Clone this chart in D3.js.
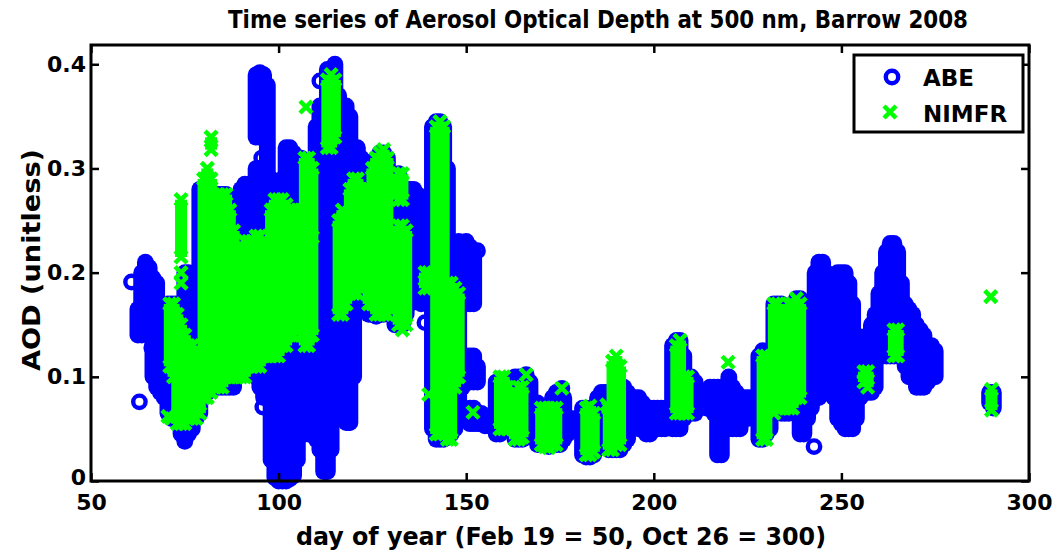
<!DOCTYPE html>
<html><head><meta charset="utf-8">
<script src="https://cdn.jsdelivr.net/npm/d3@7"></script>
<style>body{margin:0;background:#fff} svg{display:block}</style>
</head><body><svg id="c" width="1058" height="552"></svg>
<script>
// ---------- data (day of year, AOD) ----------
const xTicks = [50,100,150,200,250,300];
const yTicks = [0,0.1,0.2,0.3,0.4];
const seriesNames = ["ABE","NIMFR"];

// ABE: per-day ranges of observed AOD [day, low, high]
const abeRanges = [
[62.5,0.14,0.165],[63.5,0.14,0.2],[64.5,0.15,0.21],[65.5,0.14,0.205],[66.5,0.1,0.195],[67.5,0.09,0.19],[68.5,0.085,0.12],[69.5,0.08,0.11],
[70.5,0.065,0.17],[71.5,0.06,0.17],[72.5,0.06,0.17],[74,0.045,0.17],[75,0.038,0.2],[76,0.045,0.2],[77,0.05,0.18],[78,0.06,0.15],[79,0.065,0.28],
[80,0.08,0.28],[81,0.085,0.28],[82,0.09,0.25],[83,0.09,0.25],[84,0.09,0.275],[85,0.09,0.275],[86,0.09,0.275],[87,0.09,0.25],[88,0.09,0.2],[89,0.1,0.2],
[90,0.11,0.28],[91,0.11,0.285],[92,0.11,0.285],[93,0.11,0.28],
[94,0.33,0.39],[95,0.33,0.392],[96,0.33,0.39],[97,0.08,0.38],
[94,0.1,0.3],[95,0.09,0.3],[96,0.08,0.3],
[98,0.02,0.29],[99,0.003,0.285],[100,0.0,0.28],[101,0.0,0.29],[102,0.0,0.32],[103,0.002,0.32],[104,0.005,0.315],[105,0.02,0.31],
[106,0.045,0.31],[107,0.045,0.3],[108,0.045,0.26],[109,0.045,0.25],[110,0.04,0.34],[111,0.03,0.36],[112,0.009,0.36],[113,0.009,0.395],
[114,0.03,0.395],[115,0.08,0.4],[116,0.08,0.37],[117,0.07,0.36],[118,0.056,0.36],[119,0.056,0.35],[120,0.1,0.32],
[121,0.17,0.32],[122,0.17,0.31],[123,0.165,0.3],
[124,0.16,0.29],[125,0.16,0.3],[126,0.158,0.31],[127,0.16,0.315],[128,0.16,0.315],[129,0.165,0.31],[130,0.17,0.28],
[131,0.15,0.29],[132,0.15,0.295],[133,0.15,0.28],[134,0.16,0.28],[135,0.17,0.28],[136,0.18,0.28],[137,0.19,0.275],[138,0.17,0.26],[139,0.18,0.26],[140,0.19,0.25],
[141,0.05,0.34],[142,0.04,0.345],[143,0.04,0.345],[144,0.04,0.34],[145,0.05,0.3],[146,0.045,0.2],[147,0.05,0.2],[148,0.06,0.23],
[149,0.17,0.225],[150,0.17,0.23],[151,0.17,0.225],[152,0.17,0.22],
[149,0.09,0.12],[150,0.095,0.12],[151,0.095,0.12],[152,0.095,0.12],[153,0.095,0.11],
[151,0.055,0.07],[152,0.055,0.07],[153,0.055,0.065],[154,0.055,0.065],[155,0.053,0.06],[156,0.053,0.06],
[158,0.045,0.095],[159,0.045,0.095],[160,0.05,0.095],[161,0.05,0.09],
[163,0.04,0.1],[164,0.04,0.1],[165,0.04,0.1],[166,0.042,0.095],[167,0.045,0.095],
[169,0.035,0.075],[170,0.035,0.07],[171,0.035,0.07],[172,0.033,0.07],[173,0.035,0.08],[174,0.035,0.085],[175,0.035,0.085],[176,0.04,0.08],[177,0.045,0.06],[178,0.05,0.06],
[181,0.025,0.07],[182,0.023,0.07],[183,0.023,0.07],[184,0.025,0.07],
[185,0.04,0.08],[186,0.05,0.085],[187,0.05,0.085],[188,0.03,0.085],[189,0.03,0.085],[190,0.03,0.09],[191,0.03,0.09],[192,0.035,0.09],[193,0.04,0.085],
[195,0.055,0.08],[196,0.05,0.08],[197,0.05,0.075],[198,0.045,0.07],[199,0.045,0.07],[200,0.05,0.07],[201,0.05,0.07],[202,0.05,0.07],[203,0.05,0.07],
[205,0.05,0.13],[206,0.05,0.135],[207,0.05,0.135],[208,0.06,0.12],[209,0.065,0.1],[210,0.065,0.1],[211,0.065,0.095],
[214,0.07,0.085],[215,0.07,0.09],[216,0.065,0.09],[217,0.025,0.09],[218,0.025,0.09],[219,0.05,0.09],[220,0.05,0.1],[221,0.05,0.09],[222,0.05,0.085],[223,0.05,0.08],[224,0.06,0.08],[225,0.06,0.08],[226,0.065,0.08],
[228,0.04,0.12],[229,0.04,0.125],[230,0.045,0.12],[231,0.05,0.1],
[232,0.07,0.17],[233,0.07,0.17],[234,0.065,0.17],[235,0.065,0.15],[236,0.065,0.16],[237,0.07,0.17],[238,0.07,0.175],[239,0.045,0.175],[240,0.045,0.17],[241,0.06,0.15],
[242,0.07,0.15],[243,0.08,0.2],[244,0.08,0.21],[245,0.09,0.21],[246,0.1,0.2],
[247,0.1,0.18],[248,0.08,0.19],[249,0.06,0.2],[250,0.055,0.2],[251,0.05,0.2],[252,0.05,0.19],[253,0.05,0.17],[254,0.06,0.14],[255,0.08,0.13],
[256,0.09,0.13],[257,0.085,0.14],[258,0.085,0.15],[259,0.09,0.16],
[260,0.12,0.18],[261,0.12,0.2],[262,0.12,0.22],[263,0.12,0.228],[264,0.12,0.228],[265,0.12,0.22],[266,0.12,0.19],
[267,0.11,0.17],[268,0.1,0.165],[269,0.1,0.16],[270,0.09,0.15],[271,0.09,0.145],[272,0.09,0.14],[273,0.095,0.13],[274,0.1,0.13],[275,0.1,0.125],
[289.5,0.075,0.085],[290.5,0.07,0.085]
];
// ABE: isolated observations [day, AOD]
const abePoints = [
[60.8,0.191],[62.9,0.076],[66.2,0.128],[95.5,0.31],[95.8,0.071],[111,0.384],[112.6,0.009],[118.7,0.056],
[139,0.152],[153,0.221],[166,0.102],[175.5,0.089],[242.7,0.033]
];

// NIMFR: per-day ranges [day, low, high]
const nimfrRanges = [
[71,0.11,0.17],[72,0.1,0.17],[73,0.055,0.16],[74,0.055,0.15],[75,0.055,0.14],[74,0.215,0.27],
[76,0.06,0.13],[77,0.06,0.13],[78,0.06,0.12],[79,0.065,0.12],
[80,0.08,0.29],[81,0.08,0.3],[82,0.085,0.29],[82,0.318,0.33],
[83,0.09,0.26],[84,0.09,0.275],[85,0.09,0.275],[86,0.1,0.275],[87,0.1,0.26],[88,0.1,0.24],
[89,0.1,0.22],[90,0.1,0.22],[91,0.1,0.23],[92,0.11,0.23],[93,0.11,0.23],[94,0.11,0.235],[95,0.11,0.235],[96,0.12,0.23],[97,0.12,0.2],
[98,0.12,0.26],[99,0.12,0.27],[100,0.12,0.27],[101,0.13,0.27],[102,0.13,0.265],[103,0.14,0.26],[104,0.14,0.26],
[105,0.2,0.26],[106,0.14,0.26],[107,0.13,0.31],[108,0.13,0.31],[109,0.14,0.3],
[113,0.32,0.385],[114,0.32,0.39],[115,0.33,0.385],
[116,0.16,0.25],[117,0.16,0.26],[118,0.17,0.25],
[119,0.18,0.28],[120,0.18,0.29],[121,0.18,0.29],[122,0.19,0.28],
[124,0.17,0.28],[125,0.17,0.3],[126,0.16,0.31],[127,0.16,0.315],[128,0.16,0.318],[129,0.16,0.31],
[132,0.27,0.295],[133,0.27,0.295],[132,0.15,0.245],[133,0.145,0.245],[134,0.15,0.24],
[139,0.185,0.2],[140,0.185,0.2],
[142,0.045,0.34],[143,0.045,0.345],[144,0.1,0.34],
[145,0.04,0.19],[146,0.04,0.19],[147,0.09,0.185],[148,0.1,0.18],
[159,0.05,0.1],[160,0.05,0.1],[161,0.05,0.09],
[163,0.04,0.085],[164,0.04,0.09],[165,0.042,0.09],
[170,0.035,0.07],[171,0.033,0.07],[172,0.032,0.07],[173,0.035,0.07],[174,0.035,0.07],
[182,0.025,0.07],[183,0.025,0.072],[184,0.028,0.065],
[188,0.03,0.07],[189,0.03,0.115],[190,0.035,0.12],[191,0.035,0.11],
[206,0.065,0.13],[207,0.065,0.135],[208,0.065,0.1],[209,0.065,0.1],
[229,0.04,0.12],[230,0.04,0.12],
[232,0.065,0.17],[233,0.07,0.17],[234,0.07,0.12],[235,0.07,0.13],[236,0.07,0.17],[237,0.07,0.17],[238,0.08,0.175],[239,0.08,0.17],
[256,0.095,0.105],[257,0.09,0.105],
[264,0.12,0.145],[265,0.12,0.145],
[290,0.068,0.088]
];
// NIMFR: isolated observations [day, AOD]
const nimfrPoints = [
[70.5,0.062],[71.5,0.06],[74,0.2],[74,0.19],[107.3,0.359],[109,0.234],[140,0.083],[151.8,0.066],
[166,0.102],[175.5,0.089],[187.5,0.073],[219.8,0.114],[289.8,0.177]
];

// ---------- drawing ----------
const BLUE = "#0000ff", GREEN = "#00ff00";
const svg = d3.select("#c");
const x = d3.scaleLinear().domain([50,300]).range([91,1029]);
const y = d3.scaleLinear().domain([0,0.4185]).range([481,45]);
const R = 6.2, SW = 4.4, XS = 6;

const gData = svg.append("g");
gData.append("g").selectAll("line").data(abeRanges).join("line")
  .attr("x1", d => x(d[0])).attr("x2", d => x(d[0]))
  .attr("y1", d => y(d[1])).attr("y2", d => y(d[2]))
  .attr("stroke", BLUE).attr("stroke-width", 2*R+SW).attr("stroke-linecap","round");
gData.append("g").selectAll("circle").data(abePoints).join("circle")
  .attr("cx", d => x(d[0])).attr("cy", d => y(d[1])).attr("r", R)
  .attr("fill","none").attr("stroke", BLUE).attr("stroke-width", SW);

const xPath = (cx, cy) => `M${cx-XS},${cy-XS}L${cx+XS},${cy+XS}M${cx-XS},${cy+XS}L${cx+XS},${cy-XS}`;
gData.append("g").selectAll("rect").data(nimfrRanges).join("rect")
  .attr("x", d => x(d[0]) - 6).attr("width", 12)
  .attr("y", d => y(d[2])).attr("height", d => y(d[1]) - y(d[2]))
  .attr("fill", GREEN);
const ends = [];
nimfrRanges.forEach(d => { ends.push([d[0], d[1]]); ends.push([d[0], d[2]]); });
gData.append("g").selectAll("path").data(ends.concat(nimfrPoints)).join("path")
  .attr("d", d => xPath(x(d[0]), y(d[1])))
  .attr("stroke", GREEN).attr("stroke-width", 4.5).attr("fill","none");

// ---------- axes ----------
const axisFont = "'DejaVu Sans', sans-serif";
const gx = svg.append("g").attr("transform","translate(0,481)")
  .call(d3.axisBottom(x).tickValues(xTicks).tickSize(-8).tickPadding(16).tickFormat(d3.format("d")));
const gxt = svg.append("g").attr("transform","translate(0,45)")
  .call(d3.axisTop(x).tickValues(xTicks).tickSize(-8).tickFormat(""));
const gy = svg.append("g").attr("transform","translate(91,0)")
  .call(d3.axisLeft(y).tickValues(yTicks).tickSize(-8).tickPadding(5).tickFormat(d => d === 0 ? "0" : d3.format(".1f")(d)));
const gyr = svg.append("g").attr("transform","translate(1029,0)")
  .call(d3.axisRight(y).tickValues(yTicks).tickSize(-8).tickFormat(""));
[gx,gxt,gy,gyr].forEach(g => {
  g.select(".domain").remove();
  g.selectAll(".tick line").attr("stroke","#000").attr("stroke-width",2.5);
  g.selectAll(".tick text").attr("fill","#000").attr("font-family",axisFont)
    .attr("font-weight","bold").attr("font-size",22);
});
gx.selectAll(".tick text").attr("dy","0.6em");
gy.selectAll(".tick text").filter(d => d === 0).attr("dy","0.15em");
svg.append("rect").attr("x",91).attr("y",45).attr("width",938).attr("height",436)
  .attr("fill","none").attr("stroke","#000").attr("stroke-width",3);

// ---------- titles ----------
const labFont = "'DejaVu Sans Condensed','Liberation Sans Narrow', sans-serif";
svg.append("text").attr("x",598).attr("y",28).attr("text-anchor","middle")
  .attr("font-family",labFont).attr("font-weight","bold").attr("font-size",24)
  .attr("textLength",740).attr("lengthAdjust","spacingAndGlyphs")
  .text("Time series of Aerosol Optical Depth at 500 nm, Barrow 2008");
svg.append("text").attr("x",561).attr("y",545).attr("text-anchor","middle")
  .attr("font-family",labFont).attr("font-weight","bold").attr("font-size",24)
  .attr("textLength",530).attr("lengthAdjust","spacingAndGlyphs")
  .text("day of year (Feb 19 = 50, Oct 26 = 300)");
svg.append("text").attr("transform","translate(40,260) rotate(-90)").attr("text-anchor","middle")
  .attr("font-family",labFont).attr("font-weight","bold").attr("font-size",24)
  .attr("textLength",222).attr("lengthAdjust","spacingAndGlyphs")
  .text("AOD (unitless)");

// ---------- legend ----------
const lg = svg.append("g");
lg.append("rect").attr("x",854).attr("y",55).attr("width",169).attr("height",77)
  .attr("fill","#fff").attr("stroke","#000").attr("stroke-width",3);
lg.append("circle").attr("cx",892).attr("cy",77).attr("r",R).attr("fill","none")
  .attr("stroke",BLUE).attr("stroke-width",SW);
lg.append("path").attr("d",xPath(890,112)).attr("stroke",GREEN).attr("stroke-width",4.5);
lg.selectAll("text").data(seriesNames).join("text")
  .attr("x",923).attr("y",(d,i) => 86 + i*36)
  .attr("font-family",axisFont).attr("font-weight","bold").attr("font-size",23)
  .text(d => d);
</script></body></html>
